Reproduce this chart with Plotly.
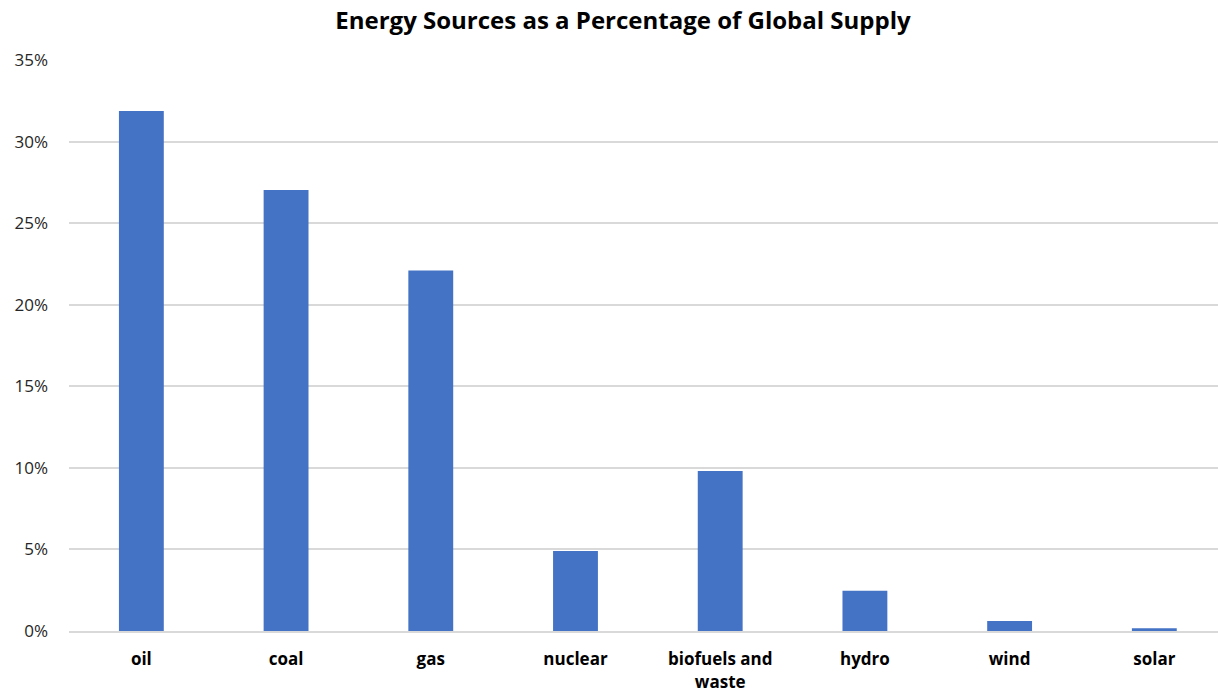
import plotly.graph_objects as go

categories = ["oil", "coal", "gas", "nuclear", "biofuels and<br>waste", "hydro", "wind", "solar"]
shares = [31.87, 27.03, 22.1, 4.9, 9.81, 2.47, 0.61, 0.17]
tick_vals = [0, 5, 10, 15, 20, 25, 30, 35]
tick_text = ["0%", "5%", "10%", "15%", "20%", "25%", "30%", "35%"]

FONT = "Open Sans, Lato, sans-serif"

fig = go.Figure(go.Bar(x=categories, y=shares, marker=dict(color="#4472C4", line=dict(width=0))))

fig.update_layout(
    width=1218, height=694,
    margin=dict(l=69, r=0, t=60, b=63),
    paper_bgcolor="white", plot_bgcolor="white",
    title=dict(text="<b>Energy Sources as a Percentage of Global Supply</b>",
               x=623 / 1218, xanchor="center", y=1 - 21 / 694, yanchor="middle",
               font=dict(family=FONT, size=24, color="black")),
    bargap=0.69,
    showlegend=False,
    font=dict(family=FONT, size=17, color="black"),
)
fig.update_xaxes(range=[-0.5, 7.44], showgrid=False, showline=True, linecolor="#D9D9D9", linewidth=2,
                 ticks="", ticklabelstandoff=12,
                 tickfont=dict(size=17, color="black", family=FONT),
                 tickprefix="<b>", ticksuffix="</b>")
fig.update_yaxes(range=[0, 35], tickvals=tick_vals, ticktext=tick_text,
                 showgrid=True, gridcolor="#D9D9D9", gridwidth=1.5, zeroline=False,
                 showline=False, ticks="", ticklen=0, ticklabelstandoff=20,
                 tickfont=dict(size=17, color="#262626", family=FONT))

fig.write_html("out.html")
